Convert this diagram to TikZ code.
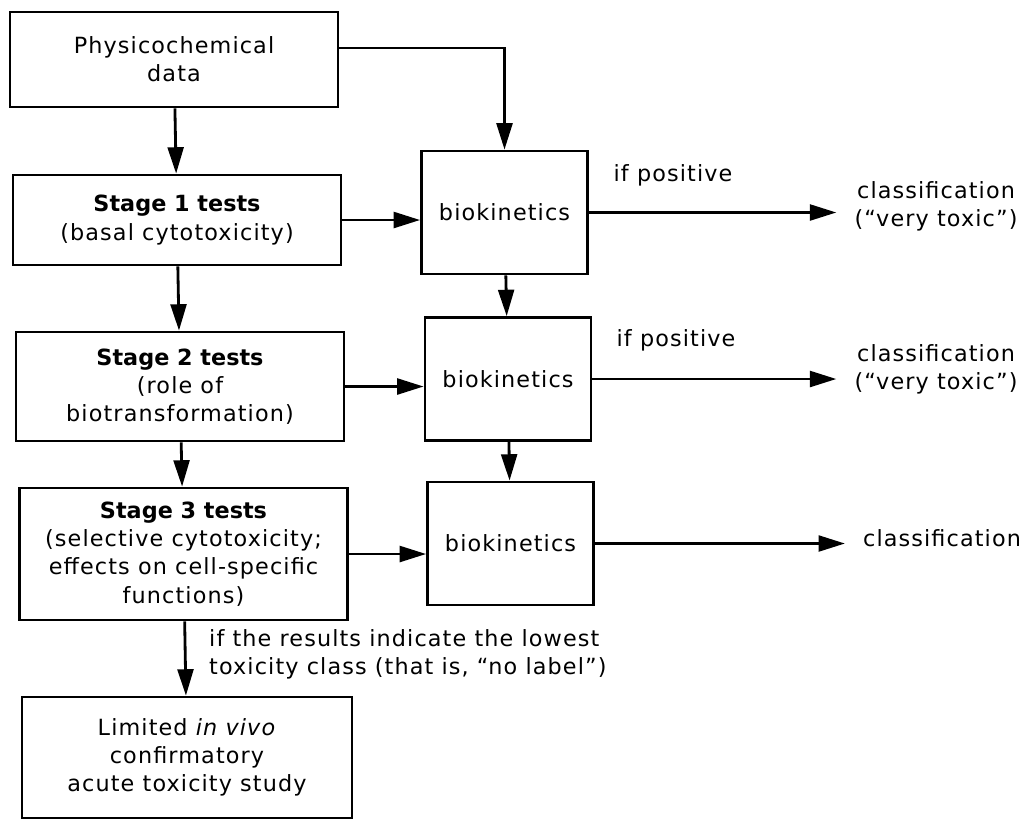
\documentclass[tikz,border=0pt]{standalone}
\usepackage{fontspec}
\setmainfont{DejaVu Sans}[LetterSpace=5,BoldFeatures={LetterSpace=0}]
\usepackage{tikz}
\usetikzlibrary{arrows.meta}

\begin{document}
\begin{tikzpicture}[auto,
    >={Triangle[length=15pt,width=9pt]},
    box/.style={draw, line width=1.6pt, align=center, minimum width=6.56cm, font=\fontsize{12.7}{16}\selectfont},
    bio/.style={draw, line width=1.6pt, minimum width=3.32cm, minimum height=2.46cm, font=\fontsize{12.7}{16}\selectfont},
    txt/.style={align=center, font=\fontsize{12.7}{16}\selectfont},
    flow/.style={->, line width=1.6pt}]
    \useasboundingbox (0,0) rectangle (20.62,-16.5);
    % left column
    \node[box, minimum height=1.90cm] (phys) at (3.48,-1.19) {Physicochemical\\data};
    \node[box, minimum height=1.80cm] (s1) at (3.54,-4.40) {\textbf{Stage 1 tests}\\(basal cytotoxicity)};
    \node[box, minimum height=2.18cm] (s2) at (3.60,-7.73) {\textbf{Stage 2 tests}\\(role of\\biotransformation)};
    \node[box, minimum height=2.64cm] (s3) at (3.67,-11.08) {\textbf{Stage 3 tests}\\(selective cytotoxicity;\\effects on cell-specific\\functions)};
    \node[box, minimum width=6.60cm, minimum height=2.42cm] (lim) at (3.74,-15.15) {Limited \textit{in vivo}\\confirmatory\\acute toxicity study};
    % middle column
    \node[bio] (b1) at (10.09,-4.25) {biokinetics};
    \node[bio] (b2) at (10.16,-7.58) {biokinetics};
    \node[bio] (b3) at (10.21,-10.87) {biokinetics};
    % labels
    \node[txt] (p1) at (13.46,-3.50) {if positive};
    \node[txt] (p2) at (13.52,-6.80) {if positive};
    \node[txt] (c1) at (18.72,-4.12) {classification\\(“very toxic”)};
    \node[txt] (c2) at (18.72,-7.38) {classification\\(“very toxic”)};
    \node[txt] (c3) at (18.84,-10.76) {classification};
    \node[txt, align=left, anchor=west] (note) at (4.06,-13.08) {if the results indicate the lowest\\toxicity class (that is, “no label”)};
    % vertical arrows
    \draw[flow] (phys) -- (s1);
    \draw[flow] (s1) -- (s2);
    \draw[flow] (s2) -- (s3);
    \draw[flow] (s3) -- (lim);
    \draw[flow] ([yshift=0.23cm]phys.east) -| (b1.north);
    \draw[flow] (b1) -- (b2);
    \draw[flow] (b2) -- (b3);
    % horizontal arrows
    \draw[flow] (s1.east) -- (s1.east -| b1.west);
    \draw[flow] (s2.east) -- (s2.east -| b2.west);
    \draw[flow] (s3.east) -- (s3.east -| b3.west);
    \draw[flow, shorten >=0.24cm] (b1.east) -- (b1.east -| c1.west);
    \draw[flow, shorten >=0.24cm] (b2.east) -- (b2.east -| c2.west);
    \draw[flow, shorten >=0.24cm] (b3.east) -- (b3.east -| c3.west);
\end{tikzpicture}
\end{document}
